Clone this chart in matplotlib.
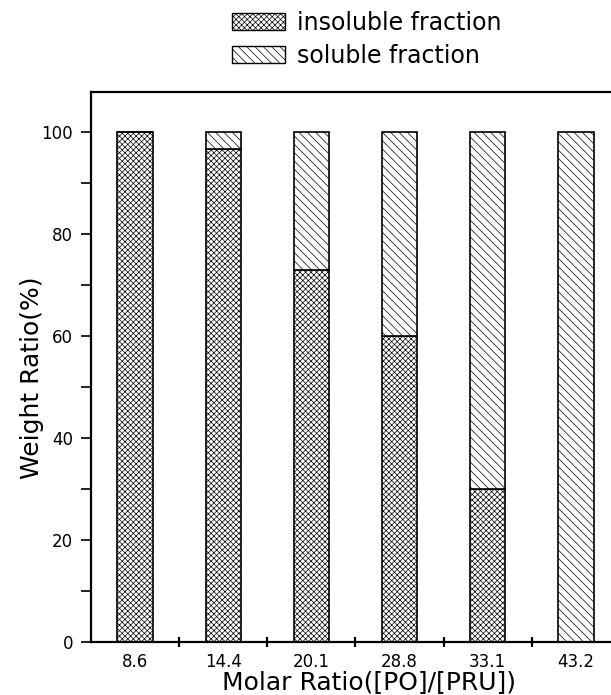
import numpy as np
import matplotlib.pyplot as plt
from matplotlib.patches import Patch
from matplotlib.ticker import MultipleLocator, FixedLocator

# molar ratio [PO]/[PRU] and weight fractions (%)
molar_ratio = ["8.6", "14.4", "20.1", "28.8", "33.1", "43.2"]
insoluble = [100, 96.7, 73, 60, 30, 0]
soluble = [0, 3.3, 27, 40, 70, 100]

plt.rcParams['hatch.linewidth'] = 0.5
HATCH_INS = 'xxxxxx'
HATCH_SOL = '\\\\\\\\'

fig = plt.figure(figsize=(6.11, 6.95), dpi=100)
# axes runs a bit past the right edge, so the right frame is cut off
ax = fig.add_axes([91/611, 53/695, 529/611, 550/695])

x = np.arange(len(molar_ratio))
w = 0.4
ax.bar(x, insoluble, w, color='white', edgecolor='black', linewidth=1.2, hatch=HATCH_INS)
ax.bar(x, soluble, w, bottom=insoluble, color='white', edgecolor='black',
       linewidth=1.2, hatch=HATCH_SOL)

ax.set_xlim(-0.5, 5.5)
ax.set_ylim(0, 107.8)

for s in ax.spines.values():
    s.set_linewidth(1.6)

ax.set_xticks(x)
ax.set_xticklabels(molar_ratio, fontsize=12)
ax.tick_params(axis='x', which='major', length=0, pad=8)
ax.xaxis.set_minor_locator(FixedLocator(x[:-1] + 0.5))
ax.tick_params(axis='x', which='minor', direction='inout', length=7, width=1.6)

ax.yaxis.set_major_locator(MultipleLocator(20))
ax.yaxis.set_minor_locator(MultipleLocator(10))
ax.tick_params(axis='y', which='both', direction='out', length=7, width=1.2,
               labelsize=12, pad=6)

ax.set_xlabel("Molar Ratio([PO]/[PRU])", fontsize=18, va='center')
ax.xaxis.set_label_coords(0.525, -0.073)
ax.set_ylabel("Weight Ratio(%)", fontsize=18, va='center')
ax.yaxis.set_label_coords(-0.112, 0.48)

handles = [
    Patch(facecolor='white', edgecolor='black', hatch=HATCH_INS, label='insoluble fraction'),
    Patch(facecolor='white', edgecolor='black', hatch=HATCH_SOL, label='soluble fraction'),
]
fig.legend(handles=handles, loc='upper left', bbox_to_anchor=(232/611, 1 - 11/695),
           frameon=False, fontsize=17, handlelength=2.25, handleheight=0.75,
           handletextpad=0.5, labelspacing=0.38, borderpad=0, borderaxespad=0)

fig.savefig("out.png", dpi=100)
